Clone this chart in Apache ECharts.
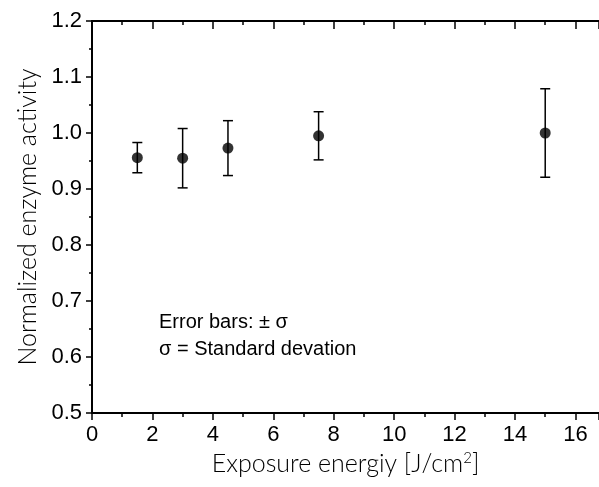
<!DOCTYPE html>
<html>
<head>
<meta charset="utf-8">
<script src="https://cdn.jsdelivr.net/npm/echarts@6/dist/echarts.min.js"></script>
<style>html,body{margin:0;padding:0;background:#fff;}#chart{width:599px;height:487px;}</style>
</head>
<body>
<div id="chart"></div>
<script>
const exposure = [1.5, 3, 4.5, 7.5, 15];
const activity = [0.956, 0.955, 0.973, 0.995, 1.0];
const sigma = [0.027, 0.053, 0.049, 0.043, 0.079];
const xTitle = 'Exposure energiy [J/cm';
const yTitle = 'Normalized enzyme activity';
const note1 = 'Error bars: \u00B1 \u03C3';
const note2 = '\u03C3 = Standard devation';

const chart = echarts.init(document.getElementById('chart'));
const labelFont = '"Liberation Sans", Arial, sans-serif';
const titleFont = 'Lato, "DejaVu Sans", sans-serif';
const X_MAX = 16.78;
const points = exposure.map((x, i) => [x, activity[i]]);
const bars = exposure.map((x, i) => [x, activity[i] - sigma[i], activity[i] + sigma[i]]);

const option = {
  animation: false,
  grid: { left: 92, top: 21, right: 0, height: 392, containLabel: false },
  xAxis: [{
    type: 'value', min: 0, max: X_MAX, interval: 2, position: 'bottom',
    name: '{t|' + xTitle + '}{s|2}{t|]}',
    nameLocation: 'middle', nameGap: 37,
    nameTextStyle: { rich: {
      t: { fontFamily: titleFont, fontSize: 25, color: '#000', fontWeight: 300 },
      s: { fontFamily: titleFont, fontSize: 15, color: '#000', verticalAlign: 'top', padding: [0,0,12,0], fontWeight: 300 }
    } },
    axisLine: { show: true, onZero: false, lineStyle: { color: '#000', width: 2 } },
    axisTick: { show: true, inside: false, length: 7, lineStyle: { color: '#000', width: 1.5 } },
    minorTick: { show: true, splitNumber: 2, length: 4, lineStyle: { color: '#000', width: 1.5 } },
    splitLine: { show: false },
    axisLabel: { showMaxLabel: false, color: '#000', fontFamily: labelFont, fontSize: 22, margin: 11,
      formatter: v => (Math.abs(v % 2) < 1e-9 ? String(v) : '') }
  }, {
    type: 'value', min: 0, max: X_MAX, interval: 2, position: 'top',
    axisLine: { show: true, onZero: false, lineStyle: { color: '#000', width: 2 } },
    axisTick: { show: true, inside: true, length: 8, lineStyle: { color: '#000', width: 1.5 } },
    minorTick: { show: true, splitNumber: 2, length: 4, lineStyle: { color: '#000', width: 1.5 } },
    splitLine: { show: false },
    axisLabel: { show: false }
  }],
  yAxis: [{
    type: 'value', min: 0.5, max: 1.2, interval: 0.1, position: 'left',
    name: yTitle, nameLocation: 'middle', nameGap: 51, nameRotate: 90,
    nameTextStyle: { fontFamily: titleFont, fontSize: 25, color: '#000', fontWeight: 300 },
    axisLine: { show: true, onZero: false, lineStyle: { color: '#000', width: 2 } },
    axisTick: { show: true, inside: false, length: 6, lineStyle: { color: '#000', width: 1.5 } },
    minorTick: { show: true, splitNumber: 2, length: 3, lineStyle: { color: '#000', width: 1.5 } },
    splitLine: { show: false },
    axisLabel: { color: '#000', fontFamily: labelFont, fontSize: 22, margin: 10,
      formatter: v => v.toFixed(1) }
  }, {
    type: 'value', min: 0.5, max: 1.2, interval: 0.1, position: 'right',
    axisLine: { show: false },
    axisTick: { show: true, inside: true, length: 3, lineStyle: { color: '#000', width: 1.5 } },
    splitLine: { show: false },
    axisLabel: { show: false }
  }],
  series: [{
    type: 'custom',
    xAxisIndex: 0, yAxisIndex: 0,
    data: bars,
    renderItem: function (params, api) {
      const x = api.value(0);
      const lo = api.coord([x, api.value(1)]);
      const hi = api.coord([x, api.value(2)]);
      const w = 5;
      const style = { stroke: '#000', lineWidth: 1.5 };
      return { type: 'group', children: [
        { type: 'line', shape: { x1: lo[0], y1: lo[1], x2: hi[0], y2: hi[1] }, style },
        { type: 'line', shape: { x1: lo[0] - w, y1: lo[1], x2: lo[0] + w, y2: lo[1] }, style },
        { type: 'line', shape: { x1: hi[0] - w, y1: hi[1], x2: hi[0] + w, y2: hi[1] }, style }
      ] };
    },
    z: 2
  }, {
    type: 'scatter',
    xAxisIndex: 0, yAxisIndex: 0,
    data: points,
    symbol: 'circle', symbolSize: 11,
    itemStyle: { color: '#000' },
    z: 3
  }],
  graphic: [
    { type: 'text', left: 159, top: 312, style: { text: note1, font: '20px "Liberation Sans", Arial, sans-serif', fill: '#000' } },
    { type: 'text', left: 159, top: 339, style: { text: note2, font: '20px "Liberation Sans", Arial, sans-serif', fill: '#000' } }
  ]
};
chart.setOption(option);
</script>
</body>
</html>
